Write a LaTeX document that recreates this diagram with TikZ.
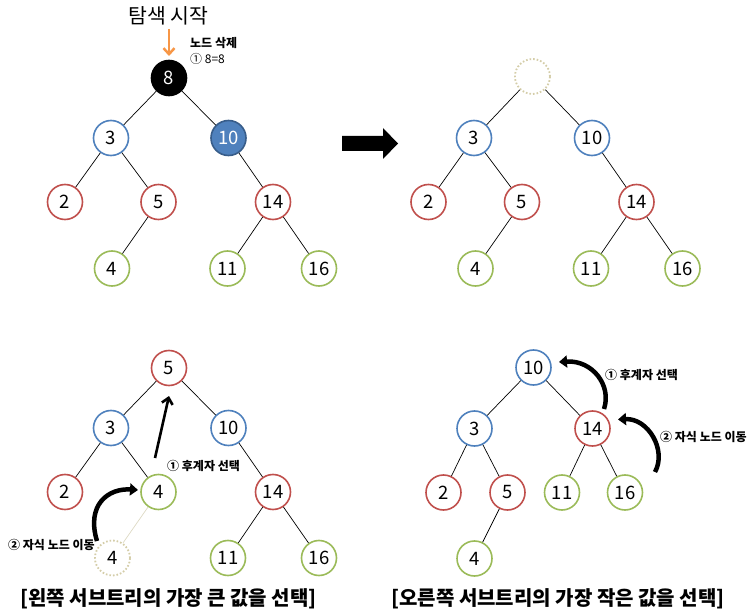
\documentclass[tikz,border=0pt]{standalone}
\usepackage{fontspec}
\setmainfont{Noto Sans CJK KR}
\usetikzlibrary{arrows.meta}
\definecolor{nblue}{HTML}{4F81BD}
\definecolor{nbluedark}{HTML}{385D8A}
\definecolor{nred}{HTML}{C0504D}
\definecolor{ngreen}{HTML}{9BBB59}
\definecolor{norange}{HTML}{F79646}
\definecolor{ntan}{HTML}{D4CDA8}
\definecolor{nline}{HTML}{DDD9C3}
\tikzset{
  tnode/.style={circle,minimum size=35pt,inner sep=0pt,line width=1.6pt,fill=white,font=\fontsize{18.5}{18.5}\selectfont},
  bnode/.style={tnode,draw=nblue},
  rnode/.style={tnode,draw=nred},
  gnode/.style={tnode,draw=ngreen},
  dnode/.style={tnode,draw=ntan,dotted,line width=1.8pt},
  edge/.style={line width=0.7pt},
  lbl/.style={font=\fontsize{12}{12}\selectfont\bfseries,anchor=west,inner sep=0pt},
  ttl/.style={font=\fontsize{20}{20}\selectfont\bfseries,inner sep=0pt},
  curvarrow/.style={line width=4.5pt,-{Triangle[length=8pt,width=12pt]}},
}
\begin{document}
\begin{tikzpicture}[x=1pt,y=-1pt]
\useasboundingbox (0,0) rectangle (753,615);
% ---------- top-left tree ----------
\node[tnode,draw=black,fill=black,text=white] (a8) at (169,78) {8};
\node[bnode] (a3) at (111,138) {3};
\node[tnode,draw=nbluedark,fill=nblue,text=white] (a10) at (228.5,138) {10};
\node[rnode] (a2) at (65,202) {2};
\node[rnode] (a5) at (158.5,202) {5};
\node[rnode] (a14) at (273,202) {14};
\node[gnode] (a4) at (112,268.5) {4};
\node[gnode] (a11) at (227.5,268.5) {11};
\node[gnode] (a16) at (319,268.5) {16};
\draw[edge] (a8)--(a3); \draw[edge] (a8)--(a10);
\draw[edge] (a3)--(a2); \draw[edge] (a3)--(a5);
\draw[edge] (a5)--(a4); \draw[edge] (a10)--(a14);
\draw[edge] (a14)--(a11); \draw[edge] (a14)--(a16);
\node[font=\fontsize{20.5}{20.5}\selectfont,inner sep=0pt] (start) at (168.5,16) {탐색 시작};
\coordinate (oa1) at (169,29);
\coordinate (oa2) at (169,56);
\draw[norange,line width=2.5pt,-{Straight Barb[length=6pt,width=11pt]}] (oa1)--(oa2);
\node[lbl] (del) at (190,43) {노드 삭제};
\node[lbl,font=\fontsize{12}{12}\selectfont] (eq) at (190,59) {① 8=8};
% ---------- big arrow ----------
\fill[black] (342,136) -- (383,136) -- (383,128) -- (398,143.5) -- (383,159) -- (383,151) -- (342,151) -- cycle;
% ---------- top-right tree ----------
\node[dnode] (b0) at (532.5,76.5) {};
\node[bnode] (b3) at (474,138) {3};
\node[bnode] (b10) at (592,138) {10};
\node[rnode] (b2) at (428.5,202) {2};
\node[rnode] (b5) at (522,202) {5};
\node[rnode] (b14) at (636.5,202) {14};
\node[gnode] (b4) at (475.5,268.5) {4};
\node[gnode] (b11) at (591,268.5) {11};
\node[gnode] (b16) at (682.5,268.5) {16};
\draw[edge] (b0)--(b3); \draw[edge] (b0)--(b10);
\draw[edge] (b3)--(b2); \draw[edge] (b3)--(b5);
\draw[edge] (b5)--(b4); \draw[edge] (b10)--(b14);
\draw[edge] (b14)--(b11); \draw[edge] (b14)--(b16);
% ---------- bottom-left tree ----------
\node[rnode] (c5) at (169,368) {5};
\node[bnode] (c3) at (111,428) {3};
\node[bnode] (c10) at (228.5,428) {10};
\node[rnode] (c2) at (65,492) {2};
\node[gnode] (c4) at (158.5,492) {4};
\node[rnode] (c14) at (273,492) {14};
\node[dnode] (c4d) at (112.5,558) {4};
\node[gnode] (c11) at (228,558) {11};
\node[gnode] (c16) at (319,558) {16};
\draw[edge] (c5)--(c3); \draw[edge] (c5)--(c10);
\draw[edge] (c3)--(c2); \draw[edge] (c3)--(c4);
\draw[edge] (c10)--(c14);
\draw[edge] (c14)--(c11); \draw[edge] (c14)--(c16);
\draw[nline,line width=0.7pt] (c4)--(c4d);
\coordinate (sa1) at (155,458);
\coordinate (sa2) at (169,396);
\draw[line width=2.6pt,-{Straight Barb[length=6pt,width=11pt]}] (sa1)--(sa2);
\node[lbl] (cl1) at (167,466) {① 후계자 선택};
\coordinate (ca1) at (97,541);
\coordinate (ca2) at (138,490);
\draw[curvarrow] (ca1) .. controls (86,505) and (108,488) .. (ca2);
\node[lbl] (cl2) at (8,545) {② 자식 노드 이동};
\node[ttl] (t1) at (168.5,598.5) {[왼쪽 서브트리의 가장 큰 값을 선택]};
% ---------- bottom-right tree ----------
\node[bnode] (d10) at (533.5,367.5) {10};
\node[bnode] (d3) at (474.5,428.5) {3};
\node[rnode] (d14) at (592.5,428.5) {14};
\node[rnode] (d2) at (443.5,492.5) {2};
\node[rnode] (d5) at (507.5,492.5) {5};
\node[gnode] (d11) at (562,492.5) {11};
\node[gnode] (d16) at (625,492.5) {16};
\node[gnode] (d4) at (474.5,558.5) {4};
\draw[edge] (d10)--(d3); \draw[edge] (d10)--(d14);
\draw[edge] (d3)--(d2); \draw[edge] (d3)--(d5);
\draw[edge] (d5)--(d4);
\draw[edge] (d14)--(d11); \draw[edge] (d14)--(d16);
\coordinate (da1) at (604,409);
\coordinate (da2) at (559,362);
\draw[curvarrow] (da1) .. controls (612,385) and (592,360) .. (da2);
\node[lbl] (dl1) at (605,375) {① 후계자 선택};
\coordinate (db1) at (655,472);
\coordinate (db2) at (618,419.5);
\draw[curvarrow] (db1) .. controls (667,450) and (648,418) .. (db2);
\node[lbl] (dl2) at (660,437) {② 자식 노드 이동};
\node[ttl] (t2) at (558,598.5) {[오른쪽 서브트리의 가장 작은 값을 선택]};
\end{tikzpicture}
\end{document}
